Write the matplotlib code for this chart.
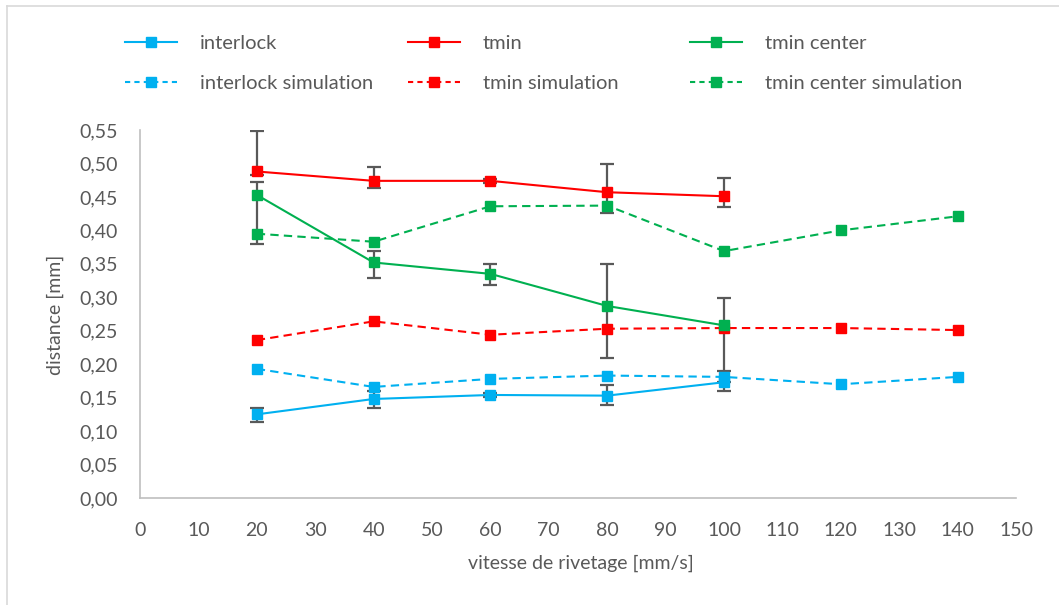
import matplotlib
matplotlib.use("Agg")
import matplotlib.pyplot as plt
from matplotlib.lines import Line2D

plt.rcParams['font.family'] = ['Lato', 'DejaVu Sans']

# rivet speed [mm/s]
speed_exp = [20, 40, 60, 80, 100]
speed_sim = [20, 40, 60, 80, 100, 120, 140]

# measured values [mm] with (lower, upper) error
interlock = [0.125, 0.148, 0.154, 0.153, 0.173]
interlock_lo = [0.011, 0.013, 0.003, 0.014, 0.013]
interlock_hi = [0.009, 0.012, 0.003, 0.016, 0.017]

tmin = [0.488, 0.474, 0.474, 0.457, 0.451]
tmin_lo = [0.005, 0.010, 0.003, 0.031, 0.016]
tmin_hi = [0.061, 0.020, 0.003, 0.042, 0.028]

tmin_center = [0.453, 0.352, 0.335, 0.287, 0.258]
tmin_center_lo = [0.073, 0.023, 0.016, 0.078, 0.085]
tmin_center_hi = [0.020, 0.017, 0.014, 0.062, 0.041]

# simulation values [mm]
interlock_sim = [0.193, 0.166, 0.178, 0.183, 0.181, 0.170, 0.181]
tmin_sim = [0.236, 0.264, 0.244, 0.253, 0.254, 0.254, 0.251]
tmin_center_sim = [0.395, 0.383, 0.436, 0.437, 0.369, 0.400, 0.421]

blue = '#00B0F0'
red = '#FF0000'
green = '#00B050'
err_col = '#595959'
txt_col = '#595959'

fig = plt.figure(figsize=(10.59, 6.05), dpi=100)
ax = fig.add_axes([140/1059, 107/605, 876/1059, 368/605])

dash = (4, 2.5)

# error bars first so the markers sit on top
for y, lo, hi in [(interlock, interlock_lo, interlock_hi),
                  (tmin, tmin_lo, tmin_hi),
                  (tmin_center, tmin_center_lo, tmin_center_hi)]:
    ax.errorbar(speed_exp, y, yerr=[lo, hi], fmt='none', ecolor=err_col,
                elinewidth=1.6, capsize=5, capthick=1.6, zorder=2)

ax.plot(speed_sim, interlock_sim, color=blue, lw=1.5, dashes=dash,
        marker='s', ms=6.5, zorder=3)
ax.plot(speed_sim, tmin_sim, color=red, lw=1.5, dashes=dash,
        marker='s', ms=6.5, zorder=3)
ax.plot(speed_sim, tmin_center_sim, color=green, lw=1.5, dashes=dash,
        marker='s', ms=6.5, zorder=3)
ax.plot(speed_exp, interlock, color=blue, lw=1.5, marker='s', ms=6.5, zorder=4)
ax.plot(speed_exp, tmin, color=red, lw=1.5, marker='s', ms=6.5, zorder=4)
ax.plot(speed_exp, tmin_center, color=green, lw=1.5, marker='s', ms=6.5, zorder=4)

ax.set_xlim(0, 150)
ax.set_ylim(0, 0.55)
ax.set_xticks(range(0, 151, 10))
ax.set_yticks([i * 0.05 for i in range(12)])
ax.set_yticklabels([f"{i * 0.05:.2f}".replace('.', ',') for i in range(12)])

for side in ['top', 'right']:
    ax.spines[side].set_visible(False)
for side in ['left', 'bottom']:
    ax.spines[side].set_color('#BFBFBF')
    ax.spines[side].set_linewidth(1.2)
ax.tick_params(length=0, labelsize=14, colors=txt_col)
ax.tick_params(axis='y', pad=16)
ax.tick_params(axis='x', pad=17)

fig.text(55/1059, 1 - 315/605, 'distance [mm]', rotation=90, ha='center',
         va='center', fontsize=14, color=txt_col)
fig.text(581/1059, 1 - 563/605, 'vitesse de rivetage [mm/s]', ha='center',
         va='center', fontsize=14, color=txt_col)

# legend, 3 columns placed like the Excel one
cols = [(blue, 'interlock', 125), (red, 'tmin', 408), (green, 'tmin center', 690)]
for color, name, xpx in cols:
    h = [Line2D([], [], color=color, lw=1.5, marker='s', ms=6.5),
         Line2D([], [], color=color, lw=1.5, dashes=(2.5, 2), marker='s', ms=6.5)]
    leg = fig.legend(h, [name, name + ' simulation'], loc='upper left',
                     bbox_to_anchor=(xpx/1059, 1 - 35/605), frameon=False,
                     fontsize=14.5, handlelength=2.6, handletextpad=1.1,
                     labelspacing=1.15, borderaxespad=0, borderpad=0)
    for t in leg.get_texts():
        t.set_color(txt_col)

# chart area border (top and left visible)
fig.add_artist(Line2D([7/1059, 1], [1 - 6/605, 1 - 6/605], color='#D9D9D9', lw=1.2))
fig.add_artist(Line2D([7/1059, 7/1059], [0, 1 - 6/605], color='#D9D9D9', lw=1.2))

fig.savefig('out.png', dpi=100)
